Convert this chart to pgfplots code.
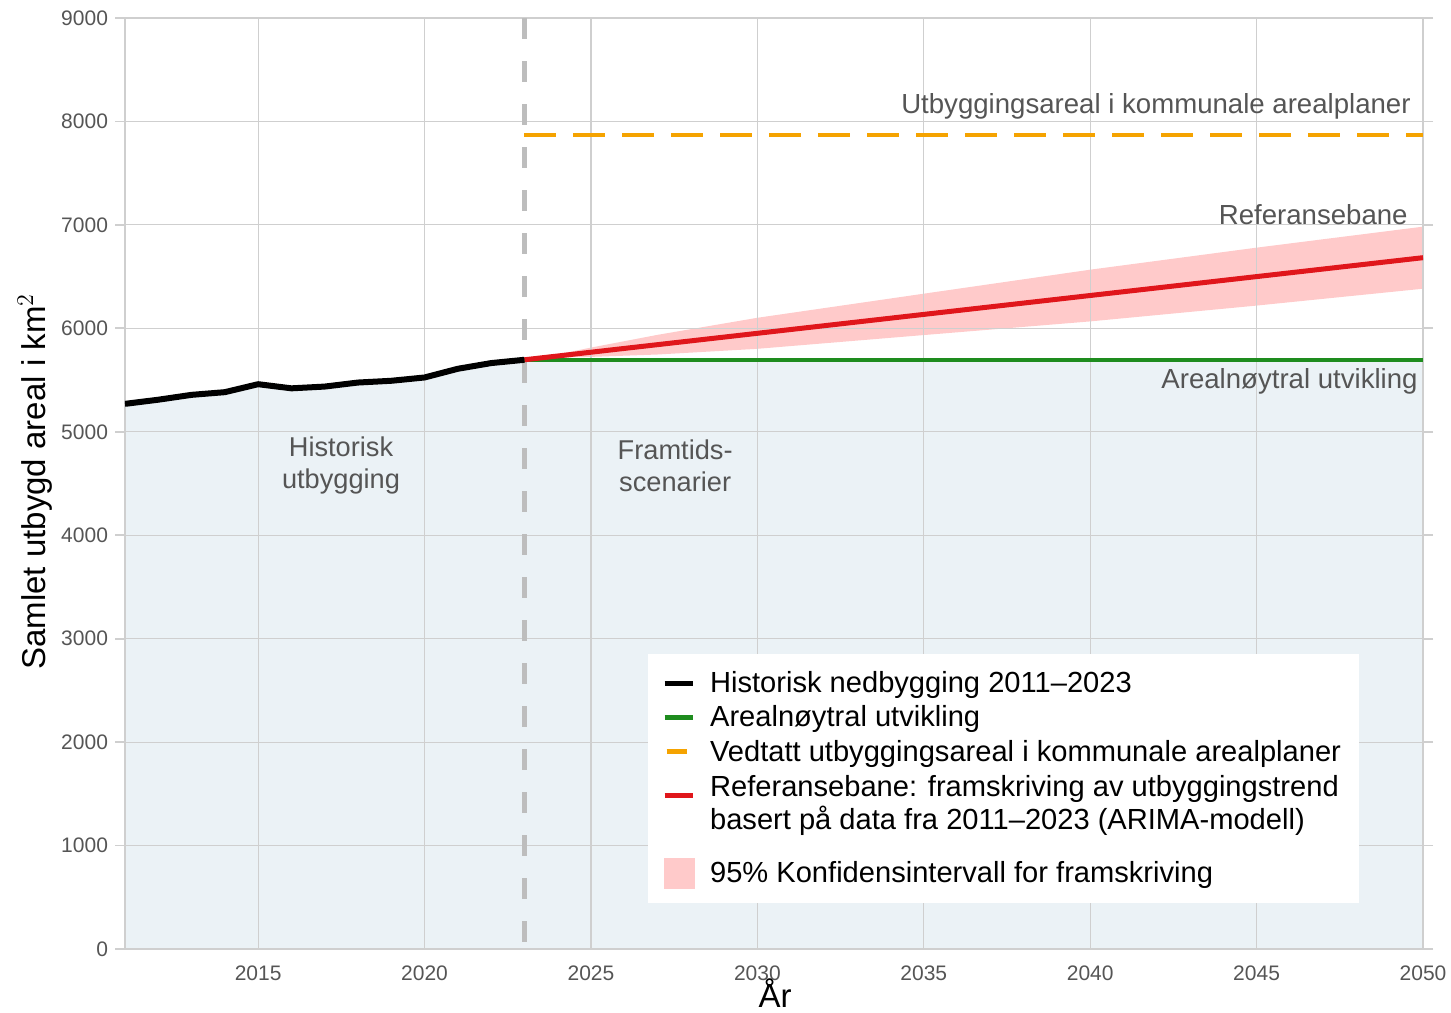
\documentclass[border=0pt]{standalone}
\usepackage{pgfplots}
\pgfplotsset{compat=1.18}
\usepackage{fontspec}
\setmainfont{Liberation Sans}

\definecolor{histfill}{HTML}{EBF2F6}
\definecolor{bandred}{HTML}{FFCACA}
\definecolor{refred}{HTML}{E0161B}
\definecolor{neutgreen}{HTML}{1E8C1E}
\definecolor{planorange}{HTML}{F5A300}
\definecolor{vline}{HTML}{BDBDBD}
\definecolor{txtgray}{HTML}{555555}
\definecolor{gridgray}{HTML}{CFCFCF}

\begin{document}
\begin{tikzpicture}
\begin{axis}[
    set layers,
    scale only axis,
    width=649pt, height=465.5pt,
    xmin=2011, xmax=2050,
    ymin=0, ymax=9000,
    xtick={2015,2020,...,2050},
    ytick={0,1000,...,9000},
    /pgf/number format/1000 sep={},
    /pgf/number format/assume math mode=true,
    tick label style={color=txtgray, font=\fontsize{10.5}{12}\selectfont},
    grid=major,
    major grid style={gridgray, line width=0.6pt},
    axis line style={gridgray, line width=0.9pt},
    tick align=outside,
    major tick length=5pt,
    xtick style={draw=none},
    ytick style={gridgray, line width=0.9pt},
    xlabel={År},
    ylabel={Samlet utbygd areal i km$^2$},
    label style={font=\fontsize{16.5}{20}\selectfont},
    xlabel style={at={(axis description cs:0.5008,-0.0632)}, anchor=base},
    ylabel style={at={(axis description cs:-0.0693,0.502)}, anchor=center},
    legend style={
        at={(0.951,0.0494)}, anchor=south east,
        draw=none, fill=white,
        font=\fontsize{14.55}{16}\selectfont,
        inner xsep=7pt, inner ysep=6.5pt,
        row sep=1.2pt,
        cells={anchor=west},
        /tikz/every odd column/.append style={column sep=5.5pt},
    },
    legend cell align=left,
]
% omradet under historisk og arealnoytral bane
\addplot[draw=none, fill=histfill, on layer=axis background, forget plot] coordinates {
    (2011,0) (2011,5270) (2012,5310) (2013,5357) (2014,5383) (2015,5460)
    (2016,5420) (2017,5437) (2018,5476) (2019,5493) (2020,5525)
    (2021,5609) (2022,5664) (2023,5696) (2050,5696) (2050,0)
} -- cycle;

% konfidensintervall
\addplot[draw=none, fill=bandred, on layer=axis background, forget plot] coordinates {
    (2023,5696) (2024,5748) (2025,5814) (2027,5937) (2030,6102) (2035,6335)
    (2040,6567) (2045,6780) (2050,6983)
    (2050,6383) (2045,6220) (2040,6067) (2035,5935) (2030,5802) (2027,5747)
    (2025,5724) (2024,5718) (2023,5696)
} -- cycle;

% skille historisk / framtid
\addplot[vline, line width=2.6pt, dash pattern=on 10.5pt off 11pt, forget plot]
    coordinates {(2023,9000) (2023,0)};

\addplot[planorange, line width=2.2pt, dash pattern=on 16pt off 8.5pt, forget plot]
    coordinates {(2023,7870) (2050,7870)};
\addplot[neutgreen, line width=2.2pt, forget plot]
    coordinates {(2023,5696) (2050,5696)};
\addplot[refred, line width=2.5pt, forget plot]
    coordinates {(2023,5696) (2050,6683)};
\addplot[black, line width=3pt, line join=round, forget plot] coordinates {
    (2011,5270) (2012,5310) (2013,5357) (2014,5383) (2015,5460)
    (2016,5420) (2017,5437) (2018,5476) (2019,5493) (2020,5525)
    (2021,5609) (2022,5664) (2023,5696)
};

% tegnforklaring
\addlegendimage{legend image code/.code={\draw[black, line width=2.5pt] (0pt,0pt) -- (14pt,0pt);}}
\addlegendentry{Historisk nedbygging 2011–2023}
\addlegendimage{legend image code/.code={\draw[neutgreen, line width=2.5pt] (0pt,0pt) -- (14pt,0pt);}}
\addlegendentry{Arealnøytral utvikling}
\addlegendimage{legend image code/.code={\draw[planorange, line width=2.5pt] (1pt,0pt) -- (11pt,0pt);}}
\addlegendentry{Vedtatt utbyggingsareal i kommunale arealplaner}
\addlegendimage{legend image code/.code={\draw[refred, line width=2.5pt] (0pt,0pt) -- (14pt,0pt);}}
\addlegendentry{\begin{tabular}{@{}l@{}}Referansebane: framskriving av utbyggingstrend\\basert på data fra 2011–2023 (ARIMA-modell)\end{tabular}}
\addlegendimage{legend image code/.code={\path[draw=none] (0pt,25pt) -- (0pt,-7.5pt); \fill[bandred] (0pt,-7.5pt) rectangle (15pt,7.5pt);}}
\addlegendentry{95\% Konfidensintervall for framskriving}

% tekst i figuren
\node[txtgray, align=center, font=\fontsize{13.6}{16}\selectfont] at (axis cs:2017.49,4675) {Historisk\\utbygging};
\node[txtgray, align=center, font=\fontsize{13.6}{16}\selectfont] at (axis cs:2027.53,4675) {Framtids-\\scenarier};
\node[txtgray, anchor=east, inner sep=0pt, font=\fontsize{13.8}{16}\selectfont] at (axis cs:2049.64,8150) {Utbyggingsareal i kommunale arealplaner};
\node[txtgray, anchor=east, inner sep=0pt, font=\fontsize{13.8}{16}\selectfont] at (axis cs:2049.55,7096) {Referansebane};
\node[txtgray, anchor=east, inner sep=0pt, font=\fontsize{13.8}{16}\selectfont] at (axis cs:2049.85,5491) {Arealnøytral utvikling};
\end{axis}
\pgfresetboundingbox
\path (-62.5pt,-31.5pt) rectangle (663pt,474.5pt);
\end{tikzpicture}
\end{document}
